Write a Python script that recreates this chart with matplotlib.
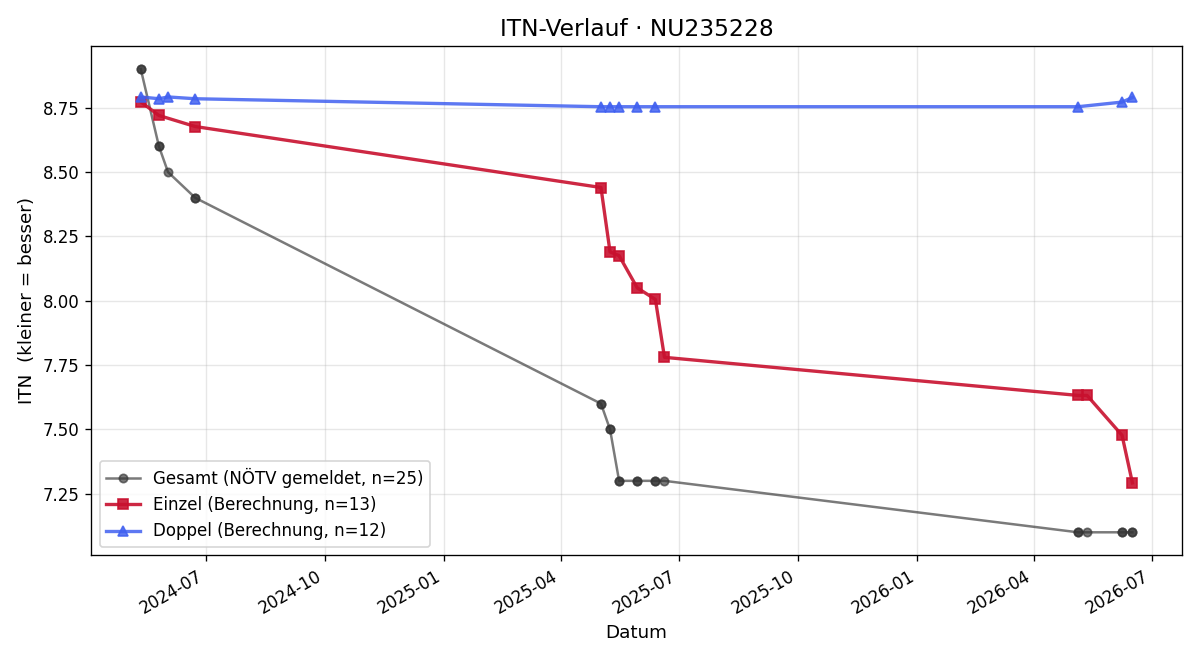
import matplotlib
matplotlib.use("Agg")
import matplotlib.pyplot as plt
import matplotlib.dates as mdates
import pandas as pd
from matplotlib.ticker import FormatStrFormatter

# Gesamt: one report per match date (Einzel + Doppel -> 25 entries)
gesamt_dates = ["2024-05-12", "2024-05-12", "2024-05-26", "2024-05-26", "2024-06-02",
                "2024-06-23", "2024-06-23", "2025-05-02", "2025-05-02", "2025-05-09",
                "2025-05-09", "2025-05-16", "2025-05-16", "2025-05-30", "2025-05-30",
                "2025-06-13", "2025-06-13", "2025-06-20", "2026-05-05", "2026-05-05",
                "2026-05-12", "2026-06-08", "2026-06-08", "2026-06-16", "2026-06-16"]
gesamt_itn = [8.9, 8.9, 8.6, 8.6, 8.5,
              8.4, 8.4, 7.6, 7.6, 7.5,
              7.5, 7.3, 7.3, 7.3, 7.3,
              7.3, 7.3, 7.3, 7.1, 7.1,
              7.1, 7.1, 7.1, 7.1, 7.1]

einzel_dates = ["2024-05-12", "2024-05-26", "2024-06-23", "2025-05-02", "2025-05-09",
                "2025-05-16", "2025-05-30", "2025-06-13", "2025-06-20", "2026-05-05",
                "2026-05-12", "2026-06-08", "2026-06-16"]
einzel_itn = [8.773, 8.72, 8.677, 8.44, 8.19, 8.175, 8.05, 8.005, 7.78, 7.632, 7.632, 7.477, 7.292]

doppel_dates = ["2024-05-12", "2024-05-26", "2024-06-02", "2024-06-23", "2025-05-02",
                "2025-05-09", "2025-05-16", "2025-05-30", "2025-06-13", "2026-05-05",
                "2026-06-08", "2026-06-16"]
doppel_itn = [8.792, 8.785, 8.792, 8.785, 8.754, 8.754, 8.754, 8.754, 8.754, 8.754, 8.772, 8.79]

fig, ax = plt.subplots(figsize=(10, 5.5), dpi=120)

ax.plot(pd.to_datetime(gesamt_dates), gesamt_itn, color="#333333", alpha=0.65,
        marker="o", markersize=5, linewidth=1.5, label="Gesamt (NÖTV gemeldet, n=25)")
ax.plot(pd.to_datetime(einzel_dates), einzel_itn, color="#c8102e", alpha=0.9,
        marker="s", markersize=6.5, linewidth=2, label="Einzel (Berechnung, n=13)")
ax.plot(pd.to_datetime(doppel_dates), doppel_itn, color="#4060f0", alpha=0.85,
        marker="^", markersize=6.5, linewidth=2, label="Doppel (Berechnung, n=12)")

ax.set_title("ITN-Verlauf · NU235228", fontsize=14)
ax.set_xlabel("Datum", fontsize=11)
ax.set_ylabel("ITN  (kleiner = besser)", fontsize=11)
ax.yaxis.set_major_formatter(FormatStrFormatter("%.2f"))
ax.xaxis.set_major_formatter(mdates.DateFormatter("%Y-%m"))
ax.grid(True, alpha=0.3)
ax.legend(loc="lower left")
fig.autofmt_xdate()
fig.tight_layout()
fig.savefig("out.png")
